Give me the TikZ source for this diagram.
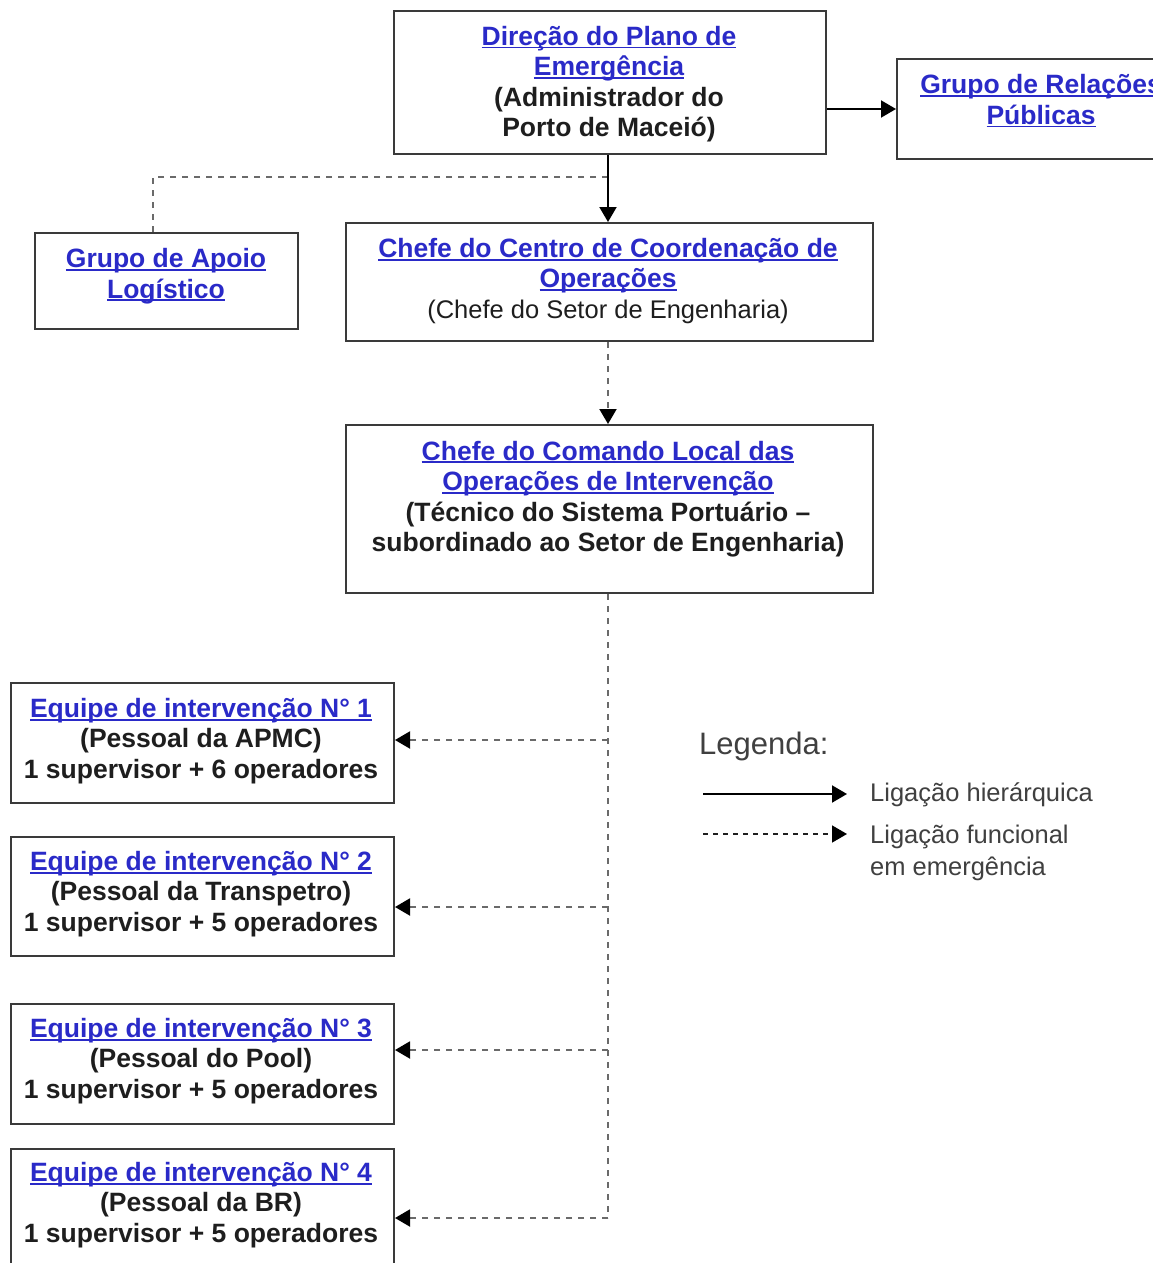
\documentclass[tikz,border=0pt]{standalone}
\usepackage{fontspec}
\setmainfont{Liberation Sans}
\usetikzlibrary{arrows.meta}
\definecolor{linkblue}{HTML}{2A2AC8}
\definecolor{ink}{HTML}{1E1E1E}
\definecolor{boxline}{HTML}{3A3A3A}
\definecolor{dashgray}{HTML}{6A6A6A}
\newcommand{\lk}[1]{\textcolor{linkblue}{\setbox0\hbox{#1}\rlap{\rule[-3.2pt]{\wd0}{1.8pt}}\box0}}
\tikzset{
  box/.style={draw=boxline, line width=2pt, anchor=north west, inner sep=0pt, fill=white},
  txt/.style={align=center, text=ink, inner sep=0pt, font=\fontsize{26.5}{30.5}\selectfont\bfseries},
  solidarr/.style={draw=black, line width=2pt, -{Triangle[length=15pt,width=17pt]}},
  dasharr/.style={draw=dashgray, line width=2pt, dash pattern=on 6pt off 6pt, arrows={-{Triangle[length=15pt,width=17pt,color=black]}}},
  dashline/.style={draw=dashgray, line width=2pt, dash pattern=on 6pt off 6pt},
  legtxt/.style={anchor=west, text=ink!85, inner sep=0pt, align=left, font=\fontsize{25.5}{32}\selectfont},
}
\begin{document}
\begin{tikzpicture}[x=1pt,y=-1pt]
\clip (0,0) rectangle (1153,1263);
\fill[white] (0,0) rectangle (1153,1263);

% boxes
\node[box, minimum width=432, minimum height=143] (top) at (393,10) {};
\node[box, minimum width=300, minimum height=100] (rel) at (896,58) {};
\node[box, minimum width=263, minimum height=96] (apoio) at (34,232) {};
\node[box, minimum width=527, minimum height=118] (centro) at (345,222) {};
\node[box, minimum width=527, minimum height=168] (comando) at (345,424) {};
\node[box, minimum width=383, minimum height=120] (e1) at (10,682) {};
\node[box, minimum width=383, minimum height=119] (e2) at (10,836) {};
\node[box, minimum width=383, minimum height=120] (e3) at (10,1003) {};
\node[box, minimum width=383, minimum height=150] (e4) at (10,1148) {};

% texts
\node[txt] (topt) at (609,84) {\lk{Direção do Plano de}\\\lk{Emergência}\\(Administrador do\\Porto de Maceió)};
\node[txt] (relt) at (1041,101) {\lk{Grupo de Relações}\\\lk{Públicas}};
\node[txt] (apoiot) at (166,276) {\lk{Grupo de Apoio}\\\lk{Logístico}};
\node[txt] (centrot) at (608,281) {\lk{Chefe do Centro de Coordenação de}\\\lk{Operações}\\{\mdseries\fontsize{25.5}{30.5}\selectfont (Chefe do Setor de Engenharia)}};
\node[txt] (comandot) at (608,499) {\lk{Chefe do Comando Local das}\\\lk{Operações de Intervenção}\\(Técnico do Sistema Portuário –\\subordinado ao Setor de Engenharia)};
\node[txt] (e1t) at (201,741) {\lk{Equipe de intervenção N° 1}\\(Pessoal da APMC)\\1 supervisor + 6 operadores};
\node[txt] (e2t) at (201,894) {\lk{Equipe de intervenção N° 2}\\(Pessoal da Transpetro)\\1 supervisor + 5 operadores};
\node[txt] (e3t) at (201,1061) {\lk{Equipe de intervenção N° 3}\\(Pessoal do Pool)\\1 supervisor + 5 operadores};
\node[txt] (e4t) at (201,1205) {\lk{Equipe de intervenção N° 4}\\(Pessoal da BR)\\1 supervisor + 5 operadores};

% junction coordinates
\coordinate (j1) at (608,177);
\coordinate (j2) at (153,177);
\coordinate (b1) at (608,740);
\coordinate (b2) at (608,907);
\coordinate (b3) at (608,1050);
\coordinate (b4) at (608,1218);

% connectors
\draw[dashline] (j1) -- (j2) -- (j2 |- apoio.north);
\draw[solidarr] (top.south -| j1) -- (centro.north -| j1);
\draw[solidarr] (rel.west -| top.east) -- (rel.west);
\draw[dasharr] (centro.south -| j1) -- (comando.north -| j1);
\draw[dashline] (comando.south -| j1) -- (b4);
\draw[dasharr] (b1) -- (b1 -| e1.east);
\draw[dasharr] (b2) -- (b2 -| e2.east);
\draw[dasharr] (b3) -- (b3 -| e3.east);
\draw[dasharr] (b4) -- (b4 -| e4.east);

% legend
\node[anchor=west, text=ink!85, inner sep=0pt, font=\fontsize{31}{34}\selectfont] (leg) at (699,746) {Legenda:};
\coordinate (l1a) at (703,794);
\coordinate (l1b) at (847,794);
\coordinate (l2a) at (703,834);
\coordinate (l2b) at (847,834);
\draw[solidarr] (l1a) -- (l1b);
\draw[draw=ink, line width=1.5pt, dash pattern=on 5pt off 5pt, arrows={-{Triangle[length=15pt,width=17pt,color=black]}}] (l2a) -- (l2b);
\node[legtxt] (leg1) at (870,795) {Ligação hierárquica};
\node[legtxt] (leg2) at (870,853) {Ligação funcional\\em emergência};
\end{tikzpicture}
\end{document}
